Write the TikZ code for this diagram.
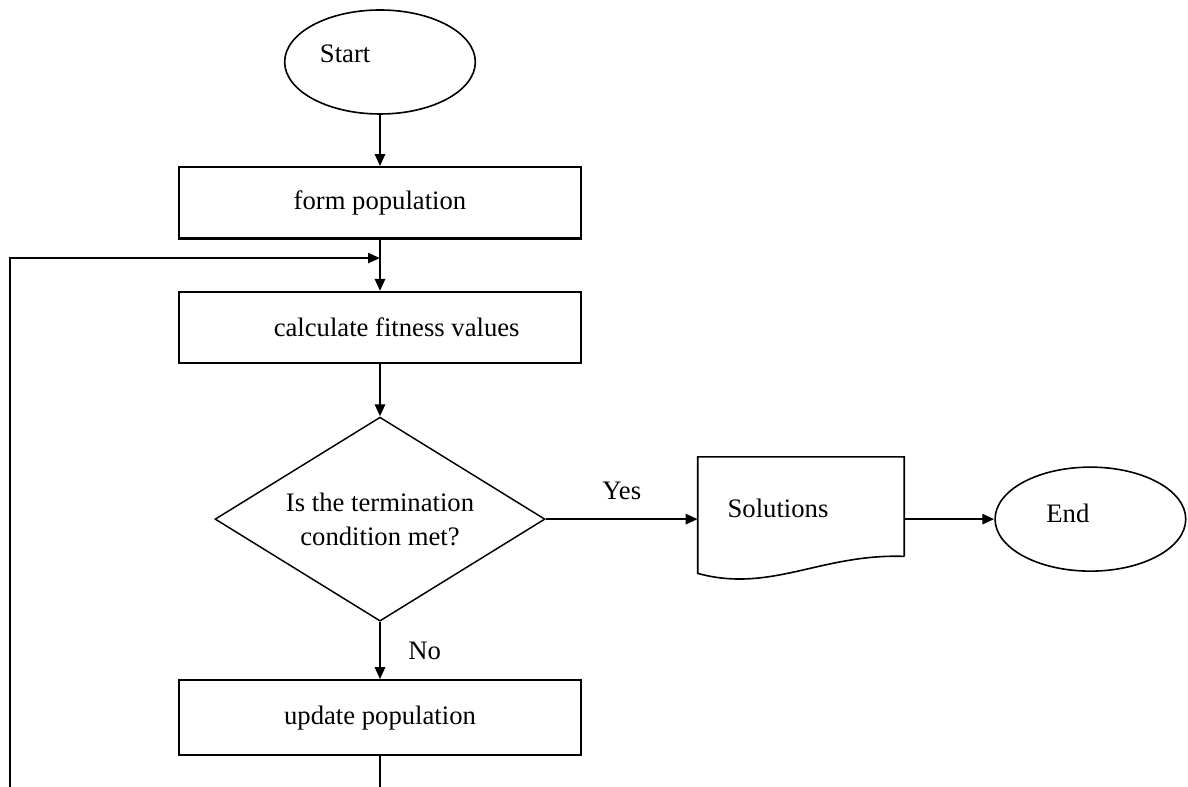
\documentclass[tikz,border=0pt]{standalone}
\usepackage{fontspec}
\setmainfont{Liberation Serif}
\usetikzlibrary{arrows.meta, shapes.geometric, positioning, calc}

\begin{document}
\begin{tikzpicture}[
      node distance=38.5pt and 114pt,
      font=\fontsize{20}{25.5}\selectfont,
      box/.style={draw, line width=1.6pt,
                  minimum width=301.5pt, minimum height=53.5pt},
      term/.style={draw, ellipse, line width=1.2pt, align=left,
                   minimum width=143pt, minimum height=78pt,
                   text depth=13pt},
      decide/.style={draw, diamond, aspect=1.6, inner sep=0pt,
                     line width=1.1pt, align=center,
                     minimum width=247.5pt, minimum height=153pt},
      docbox/.style={minimum width=154.5pt, minimum height=93pt,
                     align=left, text width=110pt, text depth=16pt},
      flow/.style={line width=2pt, -{Triangle[length=9pt, width=7.5pt]}}
    ]
    \useasboundingbox (-285pt,46.5pt) rectangle (606pt,-543.75pt);
    \fill[white] (-285pt,46.5pt) rectangle (606pt,-543.75pt);
    \clip (-285pt,46.5pt) rectangle (606pt,-543.75pt);

    \node[term, text width=90pt] (start) {Start};
    \node[box, below=of start] (form) {form population};
    \node[box, below=of form] (calc) {\hspace*{25pt}calculate fitness values};
    \node[decide, below=39pt of calc] (test) {Is the termination\\condition met?};
    \node[box, below=43pt of test, minimum height=56pt] (update) {update population};
    \node[docbox, right=of test] (sol) {Solutions};
    \node[term, text width=66pt, text depth=9pt, right=67.5pt of sol] (end) {End};

    % wavy bottom of the output document
    \draw[line width=1.2pt] ($(sol.south east)+(0,18.75pt)$) -- (sol.north east)
          -- (sol.north west) -- ($(sol.south west)+(0,6pt)$)
          .. controls +(54.75pt,-15pt) and +(-62.25pt,2.25pt) .. ($(sol.south east)+(0,18.75pt)$);

    \coordinate (merge) at ($(form.south)!0.36!(calc.north)$);
    \coordinate (loopbot) at ($(update.south)+(0,-60pt)$);
    \coordinate (loopleft) at (-277.5pt,0);

    \draw[flow] (start) -- (form);
    \draw[flow] (form) -- (calc);
    \draw[flow] (calc) -- (test);
    \draw[flow] (test) -- node[above=10pt]{Yes} (sol);
    \draw[flow] (sol) -- (end);
    \draw[flow] (test) -- node[right=17pt]{No} (update);
    % loop back, runs off the bottom edge
    \draw[flow] (update.south) -- (loopbot) -| (loopleft |- merge) -- (merge);
  \end{tikzpicture}
\end{document}
